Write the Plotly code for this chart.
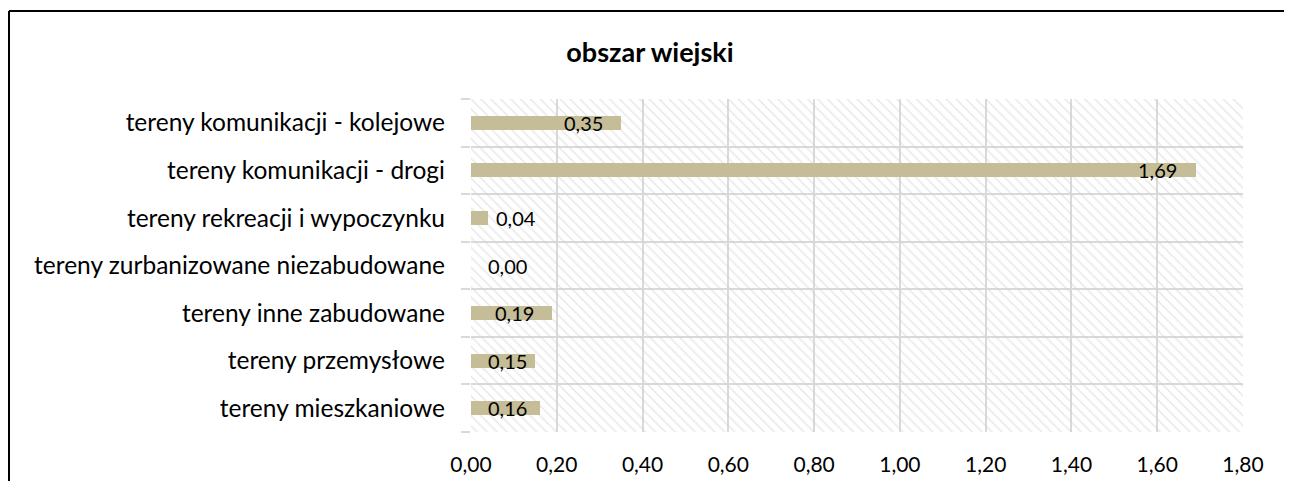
import plotly.graph_objects as go

categories = [
    "tereny mieszkaniowe",
    "tereny przemysłowe",
    "tereny inne zabudowane",
    "tereny zurbanizowane niezabudowane",
    "tereny rekreacji i wypoczynku",
    "tereny komunikacji - drogi",
    "tereny komunikacji - kolejowe",
]
values = [0.16, 0.15, 0.19, 0.00, 0.04, 1.69, 0.35]
x_ticks = [0.0, 0.2, 0.4, 0.6, 0.8, 1.0, 1.2, 1.4, 1.6, 1.8]
title_text = "obszar wiejski"

# page has an 8px body margin, so the figure is offset by 8px
W, H = 1276, 473
ML, MR, MT, MB = 463, 41, 91, 49
XMAX = 1.8
FONT = "Lato"
BAR_COLOR = "#C4BD97"
GRID = "#D9D9D9"

ypos = list(range(len(categories)))
ppu = (W - ML - MR) / XMAX  # pixels per unit
PW, PH = W - ML - MR, H - MT - MB

fig = go.Figure()

# hatched plot-area background (on the main, hidden axes)
fig.add_trace(go.Bar(
    x=[1], y=[0], base=[0], width=[1], orientation="h",
    marker=dict(color="rgba(255,255,255,0)", line=dict(width=0),
                pattern=dict(shape="\\", fgcolor="#D2D2D2", bgcolor="rgba(255,255,255,0)",
                             size=7, solidity=0.22)),
    hoverinfo="skip", showlegend=False, xaxis="x", yaxis="y",
))

# data bars on overlay axes
fig.add_trace(go.Bar(
    x=values, y=ypos, orientation="h", width=0.29,
    marker=dict(color=BAR_COLOR, line=dict(width=0)),
    showlegend=False, xaxis="x2", yaxis="y2",
))

# data labels (Excel-like inside end / outside end placement)
for v, yp in zip(values, ypos):
    end_px = v * ppu
    if end_px > 45:
        c_px = max(end_px - 38, 36)
    else:
        c_px = max(end_px + 28, 36)
    fig.add_annotation(
        x=c_px / ppu, y=yp, xref="x2", yref="y2",
        text=f"{v:.2f}".replace(".", ","), showarrow=False,
        xanchor="center", yanchor="middle",
        font=dict(family=FONT, size=20, color="#000000"),
    )

fig.update_layout(
    width=W, height=H,
    margin=dict(l=ML, r=MR, t=MT, b=MB, autoexpand=False),
    paper_bgcolor="white", plot_bgcolor="white",
    separators=", ",
    font=dict(family=FONT, size=21, color="#000000"),
    title=dict(text=f"<b>{title_text}</b>", x=642 / W, xanchor="center",
               y=1 - 45 / H, yanchor="middle",
               font=dict(family=FONT, size=27, color="#000000")),
    bargap=0,
    xaxis=dict(range=[0, 1], visible=False, fixedrange=True, automargin=False),
    yaxis=dict(range=[-0.5, 0.5], visible=False, fixedrange=True, automargin=False),
    xaxis2=dict(range=[0, XMAX], overlaying="x", side="bottom", anchor="y2",
                tickvals=x_ticks, tickformat=".2f", automargin=False,
                showgrid=True, gridcolor=GRID, gridwidth=1.5,
                zeroline=False, showline=False, ticks="",
                ticklabelstandoff=18,
                tickfont=dict(family=FONT, size=21)),
    yaxis2=dict(range=[-0.5, len(categories) - 0.5], overlaying="y", anchor="x2",
                tickvals=ypos, ticktext=categories, automargin=False,
                showgrid=False, zeroline=False, showline=False, ticks="",
                ticklabelstandoff=25,
                tickfont=dict(family=FONT, size=24.5),
                minor=dict(tickvals=[i - 0.5 for i in range(len(categories) + 1)],
                           showgrid=True, gridcolor=GRID, gridwidth=1.5,
                           ticks="outside", ticklen=9, tickcolor=GRID, tickwidth=1.5)),
    shapes=[
        # chart-area border: left and top edges (right/bottom lie outside the view)
        dict(type="line", xref="paper", yref="paper",
             x0=(1 - ML) / PW, x1=(1 - ML) / PW,
             y0=-1, y1=1 + (MT - 3) / PH,
             line=dict(color="#000000", width=2), layer="above"),
        dict(type="line", xref="paper", yref="paper",
             x0=(1 - ML) / PW, x1=2,
             y0=1 + (MT - 3) / PH, y1=1 + (MT - 3) / PH,
             line=dict(color="#000000", width=2), layer="above"),
    ],
)

fig.write_html("out.html", config={"displayModeBar": False})
